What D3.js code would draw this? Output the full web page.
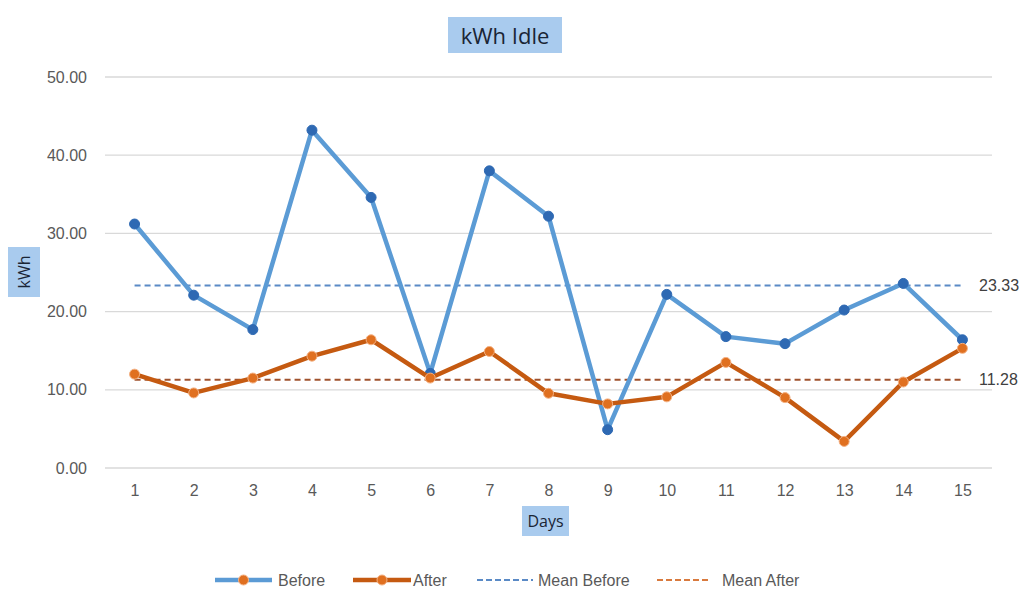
<!DOCTYPE html>
<html>
<head>
<meta charset="utf-8">
<script src="https://cdn.jsdelivr.net/npm/d3@7"></script>
<style>
  html, body { margin: 0; padding: 0; background: #ffffff; }
  svg { display: block; }
</style>
</head>
<body>
<svg id="chart" width="1028" height="589"></svg>
<script>
const days = ["1","2","3","4","5","6","7","8","9","10","11","12","13","14","15"];
const before = [31.2, 22.1, 17.7, 43.2, 34.6, 12.1, 38.0, 32.2, 4.9, 22.2, 16.8, 15.9, 20.2, 23.6, 16.4];
const after  = [12.0, 9.6, 11.5, 14.3, 16.4, 11.5, 14.9, 9.55, 8.2, 9.1, 13.5, 9.0, 3.4, 11.0, 15.3];
const meanBefore = 23.33;
const meanAfter = 11.28;
const yTicks = [0, 10, 20, 30, 40, 50];
const legendLabels = ["Before", "After", "Mean Before", "Mean After"];

const svg = d3.select("#chart");
const font = "'Liberation Sans', Arial, sans-serif";

const x = d3.scalePoint().domain(days).range([105, 992]).padding(0.5);
const y = d3.scaleLinear().domain([0, 50]).range([468, 77]);

const cBefore = "#5b9bd5", cBeforeMk = "#2e69b3";
const cAfter = "#c55a11", cAfterMk = "#e07020";
const cMeanB = "#5a8ac6", cMeanA = "#a0522d";

// gridlines
svg.append("g").selectAll("line").data(yTicks).join("line")
  .attr("x1", 105).attr("x2", 992)
  .attr("y1", d => y(d)).attr("y2", d => y(d))
  .attr("stroke", "#d9d9d9").attr("stroke-width", 1.3);

// y axis labels
const yAxis = d3.axisLeft(y).tickValues(yTicks).tickFormat(d3.format(".2f")).tickSize(0).tickPadding(0);
const yg = svg.append("g").attr("transform", "translate(87,0)").call(yAxis);
yg.select(".domain").remove();
yg.selectAll("text").attr("font-family", font).attr("font-size", 16).attr("fill", "#595959");

// x axis labels
const xAxis = d3.axisBottom(x).tickSize(0).tickPadding(0);
const xg = svg.append("g").attr("transform", "translate(0,485)").call(xAxis);
xg.select(".domain").remove();
xg.selectAll("text").attr("font-family", font).attr("font-size", 16).attr("fill", "#595959");

// mean lines
function meanLine(val, color) {
  svg.append("line")
    .attr("x1", x(days[0])).attr("x2", x(days[days.length-1]))
    .attr("y1", y(val)).attr("y2", y(val))
    .attr("stroke", color).attr("stroke-width", 2).attr("stroke-dasharray", "6,4");
  svg.append("text").attr("x", 979).attr("y", y(val)).attr("dy", "0.35em")
    .attr("font-family", font).attr("font-size", 16).attr("fill", "#404040")
    .text(d3.format(".2f")(val));
}
meanLine(meanBefore, cMeanB);
meanLine(meanAfter, cMeanA);

// series
const line = d3.line().x((d, i) => x(days[i])).y(d => y(d));
function series(vals, color, mk, mkStroke) {
  svg.append("path").datum(vals).attr("d", line)
    .attr("fill", "none").attr("stroke", color).attr("stroke-width", 4.5)
    .attr("stroke-linejoin", "round");
  svg.append("g").selectAll("circle").data(vals).join("circle")
    .attr("cx", (d, i) => x(days[i])).attr("cy", d => y(d)).attr("r", 5)
    .attr("fill", mk).attr("stroke", mkStroke).attr("stroke-width", 1);
}
series(before, cBefore, cBeforeMk, cBeforeMk);
series(after, cAfter, cAfterMk, "#f4b183");

// title
svg.append("rect").attr("x", 448).attr("y", 17).attr("width", 114).attr("height", 36).attr("fill", "#a9cbee");
svg.append("text").attr("x", 505).attr("y", 36).attr("dy", "0.35em").attr("text-anchor", "middle")
  .attr("font-family", "'Open Sans', sans-serif").attr("font-size", 22).attr("fill", "#1a2535").text("kWh Idle");

// y title
svg.append("rect").attr("x", 8).attr("y", 247).attr("width", 32).attr("height", 50).attr("fill", "#a9cbee");
svg.append("text").attr("transform", "translate(24,272) rotate(-90)").attr("dy", "0.35em").attr("text-anchor", "middle")
  .attr("font-family", "'Open Sans', sans-serif").attr("font-size", 16).attr("fill", "#1a2535").text("kWh");

// x title
svg.append("rect").attr("x", 522).attr("y", 506).attr("width", 47).attr("height", 30).attr("fill", "#a9cbee");
svg.append("text").attr("x", 545.5).attr("y", 521).attr("dy", "0.35em").attr("text-anchor", "middle")
  .attr("font-family", "'Open Sans', sans-serif").attr("font-size", 16).attr("fill", "#1a2535").text("Days");

// legend
const ly = 580;
const legend = [
  {label: legendLabels[0], x0: 215, x1: 272, color: cBefore, dashed: false, tx: 278},
  {label: legendLabels[1], x0: 353, x1: 411, color: cAfter, dashed: false, tx: 413},
  {label: legendLabels[2], x0: 477, x1: 533, color: cMeanB, dashed: true, tx: 538},
  {label: legendLabels[3], x0: 657, x1: 709, color: "#d97a3e", dashed: true, tx: 722}
];
const lg = svg.append("g");
legend.forEach(it => {
  lg.append("line").attr("x1", it.x0).attr("x2", it.x1).attr("y1", ly).attr("y2", ly)
    .attr("stroke", it.color).attr("stroke-width", it.dashed ? 2 : 4.5)
    .attr("stroke-dasharray", it.dashed ? "6,3" : null);
  if (!it.dashed) {
    lg.append("circle").attr("cx", (it.x0 + it.x1) / 2).attr("cy", ly).attr("r", 5)
      .attr("fill", cAfterMk).attr("stroke", "#f4b183").attr("stroke-width", 1);
  }
  lg.append("text").attr("x", it.tx).attr("y", ly).attr("dy", "0.35em")
    .attr("font-family", font).attr("font-size", 16).attr("fill", "#595959").text(it.label);
});
</script>
</body>
</html>
